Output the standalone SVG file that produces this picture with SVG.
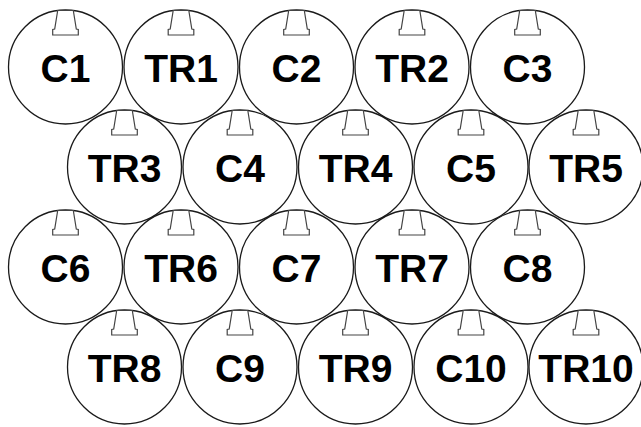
<svg xmlns="http://www.w3.org/2000/svg" width="641" height="427" viewBox="0 0 641 427">
<defs>
<style>
.c{fill:none;stroke:#1a1a1a;stroke-width:1.3}
.t{fill:#fff;stroke:#444;stroke-width:1.2;stroke-linejoin:miter}
.l{font-family:"Liberation Sans",Arial,sans-serif;font-weight:bold;font-size:39px;text-anchor:middle;fill:#000}
</style>
<g id="cell">
<circle class="c" cx="0" cy="0" r="57"/>
<polygon class="t" points="-7.8,-56.5 7.8,-56.5 10.8,-38 12.8,-37.5 12.8,-32 -12.8,-32 -12.8,-37.5 -10.8,-38"/>
</g>
</defs>
<rect width="641" height="427" fill="#fff"/>
<g id="C1" transform="translate(65.5,67)"><use href="#cell"/><text class="l" y="14.5">C1</text></g>
<g id="TR1" transform="translate(181,67)"><use href="#cell"/><text class="l" y="14.5">TR1</text></g>
<g id="C2" transform="translate(296.5,67)"><use href="#cell"/><text class="l" y="14.5">C2</text></g>
<g id="TR2" transform="translate(412,67)"><use href="#cell"/><text class="l" y="14.5">TR2</text></g>
<g id="C3" transform="translate(527.5,67)"><use href="#cell"/><text class="l" y="14.5">C3</text></g>
<g id="TR3" transform="translate(124.5,167)"><use href="#cell"/><text class="l" y="14.5">TR3</text></g>
<g id="C4" transform="translate(240,167)"><use href="#cell"/><text class="l" y="14.5">C4</text></g>
<g id="TR4" transform="translate(355.5,167)"><use href="#cell"/><text class="l" y="14.5">TR4</text></g>
<g id="C5" transform="translate(471,167)"><use href="#cell"/><text class="l" y="14.5">C5</text></g>
<g id="TR5" transform="translate(586,167)"><use href="#cell"/><text class="l" y="14.5">TR5</text></g>
<g id="C6" transform="translate(65.5,267)"><use href="#cell"/><text class="l" y="14.5">C6</text></g>
<g id="TR6" transform="translate(181,267)"><use href="#cell"/><text class="l" y="14.5">TR6</text></g>
<g id="C7" transform="translate(296.5,267)"><use href="#cell"/><text class="l" y="14.5">C7</text></g>
<g id="TR7" transform="translate(412,267)"><use href="#cell"/><text class="l" y="14.5">TR7</text></g>
<g id="C8" transform="translate(527.5,267)"><use href="#cell"/><text class="l" y="14.5">C8</text></g>
<g id="TR8" transform="translate(124.5,367)"><use href="#cell"/><text class="l" y="14.5">TR8</text></g>
<g id="C9" transform="translate(240,367)"><use href="#cell"/><text class="l" y="14.5">C9</text></g>
<g id="TR9" transform="translate(355.5,367)"><use href="#cell"/><text class="l" y="14.5">TR9</text></g>
<g id="C10" transform="translate(471,367)"><use href="#cell"/><text class="l" y="14.5">C10</text></g>
<g id="TR10" transform="translate(586,367)"><use href="#cell"/><text class="l" y="14.5">TR10</text></g>
<g id="connectors"/>
</svg>
